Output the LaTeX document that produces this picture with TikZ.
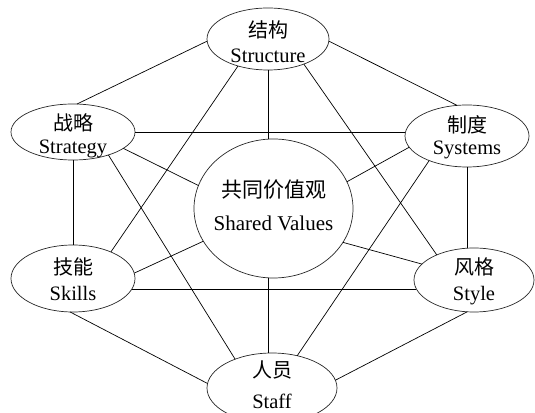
\documentclass[tikz,border=0pt]{standalone}
\usepackage{fontspec}
\setmainfont{Liberation Serif}
\newfontfamily\cjk{Noto Sans CJK SC}
\usetikzlibrary{shapes.geometric}
\begin{document}
\begin{tikzpicture}[x=1pt,y=1pt,
  oval/.style={ellipse, draw=black!85, line width=0.7pt, inner sep=0pt, outer sep=0pt},
  zh/.style={font=\cjk\fontsize{20}{24}\selectfont, inner sep=0pt, anchor=center},
  en/.style={font=\fontsize{20.5}{24}\selectfont, inner sep=0pt, anchor=base},
  link/.style={line width=0.7pt, black}]
\clip (0,0) rectangle (535,412);
% ellipses
\node[oval, minimum width=122pt, minimum height=62pt] (structure) at (268,373) {};
\node[oval, minimum width=124pt, minimum height=56pt] (strategy) at (73,280) {};
\node[oval, minimum width=124pt, minimum height=62pt] (systems) at (467,276) {};
\node[oval, minimum width=159pt, minimum height=139pt] (shared) at (273.5,203.5) {};
\node[oval, minimum width=124pt, minimum height=67pt] (skills) at (73,133.5) {};
\node[oval, minimum width=120pt, minimum height=64pt] (style) at (474,132) {};
\node[oval, minimum width=130pt, minimum height=70pt] (staff) at (272,24) {};
% texts
\node[zh] (structurezh) at ([yshift=9pt]structure.center) {结构};
\node[en] (structureen) at ([yshift=-24pt]structure.center) {Structure};
\node[zh] (strategyzh) at ([yshift=9.5pt]strategy.center) {战略};
\node[en] (strategyen) at ([yshift=-22pt]strategy.center) {Strategy};
\node[zh] (systemszh) at ([yshift=11pt]systems.center) {制度};
\node[en] (systemsen) at ([yshift=-19pt]systems.center) {Systems};
\node[zh, font=\cjk\fontsize{21}{24}\selectfont] (sharedzh) at ([yshift=18.5pt]shared.center) {共同价值观};
\node[en, font=\fontsize{21}{24}\selectfont] (shareden) at ([yshift=-22pt]shared.center) {Shared Values};
\node[zh] (skillszh) at ([yshift=12pt]skills.center) {技能};
\node[en] (skillsen) at ([yshift=-22.5pt]skills.center) {Skills};
\node[zh] (stylezh) at ([yshift=13.5pt]style.center) {风格};
\node[en] (styleen) at ([yshift=-21pt]style.center) {Style};
\node[zh] (staffzh) at ([yshift=18pt]staff.center) {人员};
\node[en] (staffen) at ([yshift=-20pt]staff.center) {Staff};
% connectors
\draw[link] (structure.182) -- (strategy.82);
\draw[link] (structure.-2) -- (systems.108);
\draw[link] (structure.south) -- (structure.south |- shared.north);
\draw[link] (structure.222) -- (skills.35);
\draw[link] (structure.-35) -- (style.146);
\draw[link] (strategy.east) -- (strategy.east -| systems.west);
\draw[link] (strategy.-18) -- (shared.163);
\draw[link] (strategy.-33) -- (staff.142);
\draw[link] (strategy.south) -- (strategy.south |- skills.north);
\draw[link] (systems.191) -- (shared.20);
\draw[link] (systems.213) -- (staff.52);
\draw[link] (systems.south) -- (systems.south |- style.north);
\draw[link] (skills.5) -- (shared.205);
\draw[link] (skills.-10) -- (skills.-10 -| style.189);
\draw[link] (skills.265) -- (staff.176);
\draw[link] (style.163) -- (shared.-26);
\draw[link] (style.258) -- (staff.7);
\draw[link] (shared.266) -- (shared.266 |- staff.north);
\end{tikzpicture}
\end{document}
